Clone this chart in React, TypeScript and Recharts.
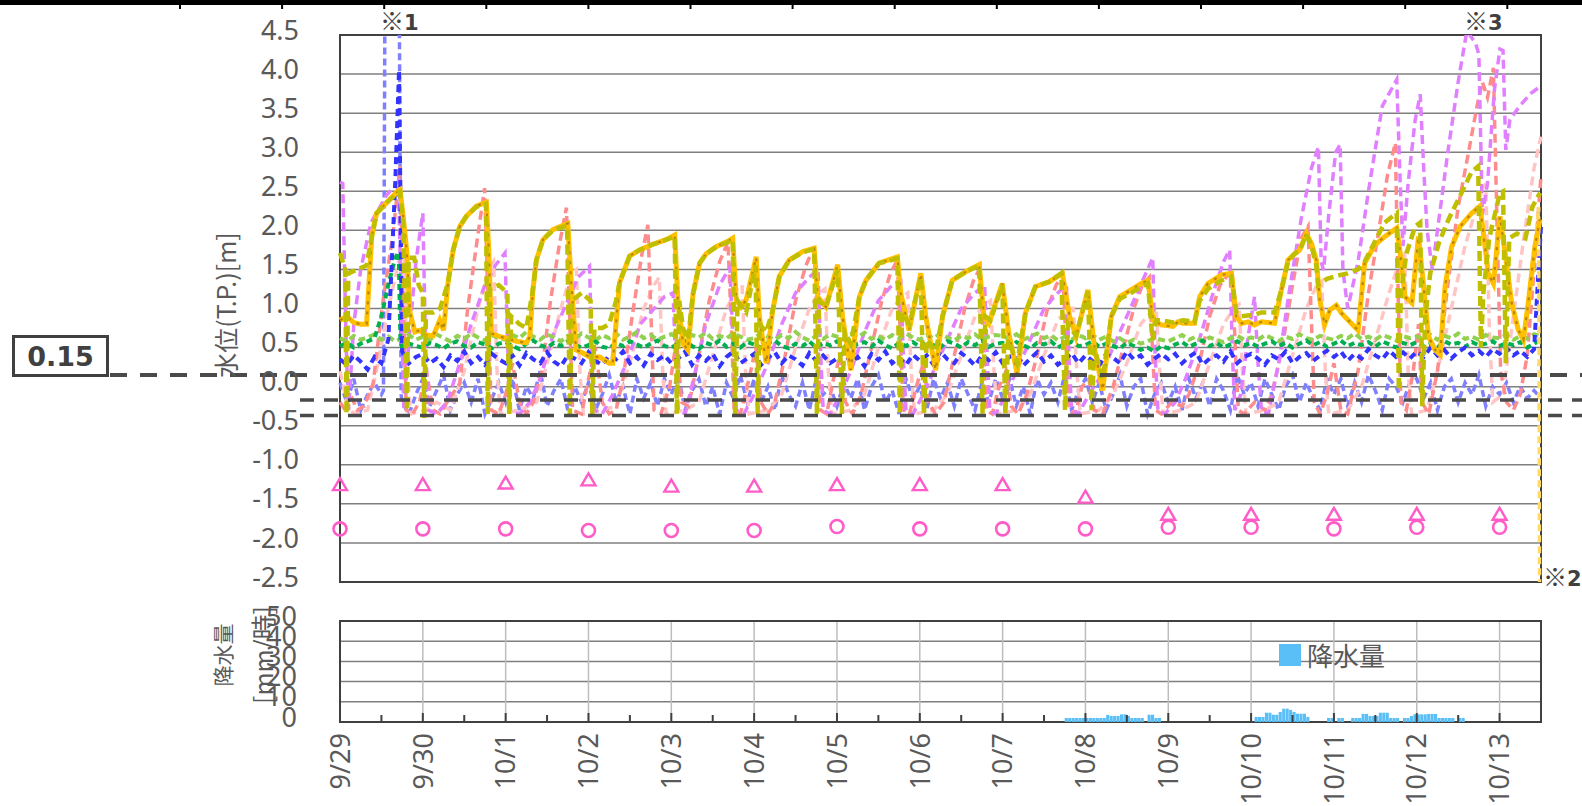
import {
  ComposedChart,
  Line,
  Scatter,
  Bar,
  XAxis,
  YAxis,
  CartesianGrid,
  ReferenceLine,
  ReferenceArea,
} from 'recharts'

// ---- axes / categories ----
const dayLabels = ['9/29', '9/30', '10/1', '10/2', '10/3', '10/4', '10/5', '10/6', '10/7', '10/8', '10/9', '10/10', '10/11', '10/12', '10/13']
const dayHours = dayLabels.map((_, i) => i * 24)
const halfDayHours = dayHours.flatMap((h) => [h, h + 12])
const levelTicks = [-2.5, -2, -1.5, -1, -0.5, 0, 0.5, 1, 1.5, 2, 2.5, 3, 3.5, 4, 4.5]
const rainTicks = [0, 10, 20, 30, 40, 50]
const END_HOUR = 348
const STEP = 2 // hours between samples of the logger series below

// ---- threshold levels ----
const thresholdHigh = 0.15
const thresholdMid = -0.17
const thresholdLow = -0.37

// ---- daily manual readings (0:00 each day) ----
const triangleLevels = [-1.26, -1.26, -1.24, -1.2, -1.28, -1.28, -1.26, -1.26, -1.26, -1.42, -1.64, -1.64, -1.64, -1.64, -1.64]
const circleLevels = [-1.82, -1.82, -1.82, -1.84, -1.84, -1.84, -1.79, -1.82, -1.82, -1.82, -1.8, -1.8, -1.82, -1.8, -1.8]

// ---- water level series, [hour, m] ----
const orangeLine = [
  [0, 0.85], [2, 0.9], [4, 0.82], [6, 0.8], [7.7, 0.8], [9.2, 1.92], [10.6, 2.22], [13.4, 2.35], [16.7, 2.5], [17.4, 2.52],
  [18.3, 2.18], [19.3, 1.75], [20.3, 0.94], [21.7, 0.7], [23, 0.72], [25, 0.66], [27, 0.65], [28.9, 0.85], [30, 0.72],
  [31.3, 1.33], [32.8, 1.75], [34.7, 2.05], [36.6, 2.18], [39.5, 2.31], [42.4, 2.36], [43.1, 1.75], [43.9, 0.68],
  [46.3, 0.64], [48.2, 0.62], [51.1, 0.58], [54, 0.56], [55, 0.64], [55.9, 1.24], [56.9, 1.62], [58.8, 1.88], [61.7, 2.01],
  [66, 2.09], [67, 1.33], [68.4, 0.47], [70.4, 0.43], [72.3, 0.38], [75.2, 0.38], [78, 0.3], [79, 0.3], [81, 1.33],
  [83.9, 1.67], [86.8, 1.75], [90.6, 1.82], [94.5, 1.88], [97, 1.94], [97.9, 1.11], [99.4, 0.55], [100.8, 0.47],
  [102.3, 1.19], [104.2, 1.58], [106.1, 1.7], [109, 1.79], [111.9, 1.85], [113.8, 1.9], [114.8, 1.11], [116.2, 1.02],
  [117.7, 1.11], [120.6, 1.66], [121.5, 0.9], [123.5, 0.3], [125.4, 0.98], [127.3, 1.41], [130.2, 1.62], [134.1, 1.73],
  [137.4, 1.77], [138.4, 1.15], [140.8, 1.02], [144.2, 1.56], [145.6, 0.9], [148, 0.21], [150.5, 1.15], [152.4, 1.36],
  [156.2, 1.58], [161.5, 1.66], [162.5, 1.19], [164.9, 0.72], [168.3, 1.45], [169.7, 0.9], [172.6, 0.21], [174.6, 0.9],
  [177.4, 1.36], [181.3, 1.47], [185.2, 1.56], [186.6, 0.9], [188, 0.81], [191.9, 1.32], [193.8, 0.68], [196.2, 0.17],
  [198.6, 0.94], [201.5, 1.28], [205.4, 1.34], [209.3, 1.45], [211.4, 0.9], [213.3, 0.64], [216.7, 1.24], [218.7, 0.47],
  [221, -0.05], [223.5, 0.9], [225.9, 1.15], [229.3, 1.24], [232.2, 1.32], [234.1, 1.36], [235.6, 0.85], [238, 0.79],
  [241.4, 0.77], [242.8, 0.83], [244.3, 0.81], [247.6, 0.81], [249.1, 1.15], [251.5, 1.32], [255.4, 1.43], [258.3, 1.45],
  [259.7, 0.9], [261.2, 0.81], [263.1, 0.83], [265, 0.79], [267, 0.83], [270.8, 0.81], [272.8, 1.24], [274.7, 1.62],
  [276.6, 1.7], [278.1, 1.75], [280, 1.96], [281.5, 1.83], [282.9, 1.62], [283.9, 1.11], [285.3, 0.79], [286.8, 0.98],
  [288.7, 1.04], [290.2, 0.94], [293, 0.81], [295, 0.72], [296.9, 1.58], [299.8, 1.81], [302.7, 1.92], [306.2, 2.03],
  [307.2, 1.71], [308.6, 1.15], [310.6, 1.07], [312.5, 1.92], [314, 1.28], [315.4, 0.64], [317.3, 0.47], [318.8, 0.41],
  [320.2, 1.28], [322.1, 1.79], [324.6, 2.05], [327.9, 2.22], [330.3, 2.31], [331.3, 1.97], [332.7, 1.45], [334.2, 1.32],
  [336.1, 2.18], [337.6, 1.71], [339.5, 1.07], [341.4, 0.73], [342.9, 0.6], [344.3, 1.07], [346.2, 1.79], [347.7, 2.14],
]

const oliveLine = [
  [0, 1.71], [1.5, 1.5], [1.9, -0.35], [2.4, 1.45], [5, 1.5], [7.7, 1.55], [9.2, 1.92], [10.6, 2.22], [13.4, 2.35],
  [16.7, 2.48], [17.4, 2.5], [18.3, 2.1], [19, 0.6], [19.4, -0.3], [19.9, 1.65], [21.5, 1.65], [22.8, 1.3], [24, 1.2],
  [24.4, -0.4], [24.9, 0.95], [27, 0.95], [29, 1.0], [31.3, 1.33], [32.8, 1.75], [34.7, 2.05], [36.6, 2.18], [39.5, 2.3],
  [42.3, 2.34], [42.8, -0.35], [43.4, 1.25], [46, 1.3], [48.5, 1.2], [49, -0.35], [49.6, 0.9], [52, 0.8], [54, 0.75],
  [55.9, 1.24], [56.9, 1.62], [58.8, 1.88], [61.7, 2.0], [65.8, 2.06], [66.6, -0.35], [67.2, 1.1], [70, 1.2], [72.6, 1.1],
  [73.1, -0.35], [73.7, 0.75], [76, 0.75], [78, 0.8], [80, 1.1], [81, 1.33], [83.9, 1.67], [86.8, 1.75], [90.6, 1.82],
  [94.5, 1.88], [97, 1.92], [97.6, -0.35], [98.3, 1.1], [99.4, 0.75], [100.8, 0.6], [102.3, 1.19], [104.2, 1.58],
  [106.1, 1.7], [109, 1.79], [111.9, 1.84], [113.8, 1.88], [114.5, -0.35], [115.2, 1.1], [117.7, 0.95], [120.4, 1.55],
  [121, -0.35], [121.6, 0.8], [123.5, 0.7], [125.4, 0.98], [127.3, 1.41], [130.2, 1.62], [134.1, 1.72], [137.4, 1.76],
  [138.2, -0.35], [138.8, 1.1], [140.8, 1.02], [144.2, 1.5], [145.4, -0.35], [146.2, 0.7], [148, 0.55], [150.5, 1.15],
  [152.4, 1.36], [156.2, 1.58], [161.5, 1.64], [162.2, -0.35], [162.9, 0.95], [165, 0.8], [168.3, 1.4], [169.2, -0.35],
  [170, 0.6], [172.6, 0.45], [174.6, 0.9], [177.4, 1.36], [181.3, 1.47], [185.2, 1.55], [186.2, -0.35], [187, 0.9],
  [188.5, 0.85], [191.9, 1.3], [192.8, -0.35], [193.6, 0.6], [196.2, 0.3], [198.6, 0.94], [201.5, 1.28], [205.4, 1.34],
  [209, 1.45], [210.1, -0.3], [210.9, 0.8], [213.3, 0.65], [216.7, 1.22], [217.8, -0.3], [218.6, 0.5], [221, 0.1],
  [223.5, 0.9], [225.9, 1.12], [229.3, 1.2], [232.2, 1.28], [234.1, 1.32], [235.4, 0.6], [236.5, 0.85], [238, 0.85],
  [241.4, 0.82], [244.3, 0.85], [247.6, 0.83], [249.1, 1.1], [251.5, 1.25], [255.4, 1.36], [258.3, 1.4], [259.7, 0.95],
  [261.2, 0.9], [265, 0.92], [267, 0.95], [270.8, 0.95], [272.8, 1.24], [274.7, 1.6], [276.6, 1.7], [278.1, 1.74],
  [280, 1.95], [281.5, 1.8], [282.9, 1.55], [283.4, 1.3], [286, 1.38], [289, 1.42], [292, 1.45], [295, 1.5], [296.9, 1.6],
  [299.8, 1.85], [302.7, 2.1], [306.2, 2.22], [306.8, -0.05], [307.4, 1.2], [309, 1.7], [311.5, 2.05], [313, 2.1],
  [313.6, -0.25], [314.4, 0.85], [315.9, 1.45], [318.5, 1.85], [321.2, 2.14], [325, 2.48], [327.9, 2.75], [329.8, 2.82],
  [330.6, 0.5], [331.3, 1.2], [333, 1.9], [336.1, 2.48], [337, 2.5], [337.8, 0.3], [338.8, 1.9], [341, 1.96], [343.5, 1.9],
  [345.5, 2.3], [347.7, 2.48],
]

const violetLine = [
  [0, 2.62], [0.8, 2.6], [1.8, 0.5], [2.5, -0.3], [4, 0.8], [6, 1.5], [9, 2.1], [13.5, 2.45], [16.9, 2.63], [17.8, 1.0],
  [18.5, -0.3], [20, 0.6], [22, 1.6], [24, 2.22], [24.8, 0.5], [25.6, -0.3], [28, -0.35], [31, -0.2], [34, 0.2], [38, 0.8],
  [42, 1.3], [45, 1.55], [47.8, 1.71], [48.6, 0.5], [49.4, -0.3], [52, -0.35], [55, -0.2], [58, 0.1], [62, 0.7], [66, 1.1],
  [69, 1.4], [72.3, 1.54], [73, 0.4], [73.8, -0.3], [76, -0.35], [79, -0.1], [83, 0.3], [87, 0.8], [91, 1.0], [94, 1.15],
  [96.5, 1.2], [97.3, 0.3], [98, -0.3], [100, -0.35], [103, 0.2], [106, 0.8], [110, 1.3], [113, 1.53], [114, 0.4],
  [114.8, -0.3], [117, -0.35], [120, -0.1], [124, 0.3], [128, 0.8], [132, 1.2], [136, 1.4], [138.5, 1.5], [139.3, 0.4],
  [140, -0.3], [142, -0.35], [145, -0.1], [148, 0.2], [152, 0.7], [156, 1.1], [160, 1.3], [162.5, 1.35], [163.3, 0.3],
  [164, -0.3], [166, -0.35], [169, -0.1], [172, 0.2], [176, 0.6], [180, 1.0], [184, 1.2], [186.8, 1.3], [187.6, 0.3],
  [188.3, -0.3], [190, -0.35], [193, -0.1], [196, 0.2], [200, 0.6], [204, 1.0], [208, 1.2], [210.5, 1.3], [211.3, 0.3],
  [212, -0.3], [214, -0.35], [217, -0.1], [220, 0.1], [224, 0.5], [228, 0.9], [232, 1.3], [235.5, 1.65], [236.2, 0.4],
  [237, -0.3], [239, -0.35], [242, -0.2], [245, 0.1], [249, 0.6], [253, 1.2], [256, 1.6], [257.8, 1.75], [258.6, 0.4],
  [259.3, -0.3], [261, -0.1], [263, 0.6], [265, 1.15], [266, 0.3], [267, -0.3], [269, -0.35], [272, 0.3], [275, 1.2],
  [278.6, 2.17], [281.5, 2.8], [283.5, 3.07], [284.3, 1.6], [285, 1.49], [286.5, 2.2], [288.5, 3.0], [289.8, 3.1],
  [290.6, 1.49], [292, 1.0], [295, 1.6], [298, 2.5], [302, 3.59], [306.2, 3.93], [307.2, 2.6], [308, 1.8], [309.5, 2.6],
  [311.5, 3.4], [313, 3.74], [314, 2.8], [315, 2.0], [316.5, 1.5], [318, 2.0], [321, 3.0], [324, 3.9], [326.5, 4.55],
  [329, 4.4], [330, 4.25], [331, 2.2], [332.5, 2.6], [334.5, 3.8], [336.1, 4.32], [337, 4.3], [337.8, 3.03], [339, 3.42],
  [342, 3.6], [345, 3.75], [348, 3.85],
]

const salmonLine = [
  [0, -0.2], [1.5, -0.3], [3, -0.1], [5, -0.3], [7, -0.25], [9.6, 0.04], [12.5, 1.11], [15.4, 1.97], [17.4, 2.82],
  [18.4, 1.0], [19.2, -0.3], [21, -0.35], [23, -0.2], [25, 0.2], [27, -0.3], [29, -0.35], [31, -0.2], [34.7, 0.04],
  [37, 1.0], [39.5, 1.8], [41.9, 2.54], [43, 1.0], [43.8, -0.3], [46, -0.35], [48, -0.1], [50, 0.3], [52, -0.2],
  [54, -0.35], [56, -0.2], [58.5, 0.2], [61, 1.1], [63.5, 1.8], [65.6, 2.29], [66.6, 0.8], [67.4, -0.3], [70, -0.35],
  [72, 0.1], [74, 0.5], [76, -0.2], [78, -0.35], [80, -0.3], [82, 0.1], [85, 1.0], [87.5, 1.7], [89.2, 2.07], [90.2, 0.8],
  [91, -0.3], [93, -0.35], [95.5, 0.0], [97.5, 0.6], [99, -0.2], [101, -0.25], [104, 0.4], [107, 1.1], [110, 1.6],
  [112.4, 1.85], [113.4, 0.8], [114.2, -0.3], [116, -0.35], [118, 0.0], [120.5, 0.5], [122, -0.2], [124, -0.35],
  [126, -0.2], [129, 0.4], [132, 1.1], [135, 1.55], [137.4, 1.79], [138.4, 0.6], [139.2, -0.3], [141, -0.35], [143, 0.1],
  [145, 0.4], [146.5, -0.2], [148.5, -0.35], [151, -0.1], [154, 0.5], [157, 1.1], [159.5, 1.45], [161.5, 1.62],
  [162.5, 0.5], [163.3, -0.3], [165, -0.35], [167, 0.0], [169, 0.3], [170.5, -0.2], [172.5, -0.35], [175, -0.2],
  [178, 0.4], [181, 1.0], [183.5, 1.35], [185.5, 1.52], [186.5, 0.5], [187.3, -0.3], [189, -0.35], [191, 0.0], [193, 0.2],
  [194.5, -0.25], [196.5, -0.35], [199, -0.1], [202, 0.4], [205, 1.0], [207.5, 1.3], [209.5, 1.42], [210.5, 0.4],
  [211.3, -0.3], [213, -0.35], [215, 0.0], [217, 0.1], [218.5, -0.3], [221, -0.35], [224, 0.0], [227, 0.5], [230, 1.0],
  [232.5, 1.3], [234.5, 1.4], [235.5, 0.4], [236.3, -0.3], [238, -0.35], [241, -0.2], [244, -0.25], [246, -0.1],
  [249, 0.3], [252, 0.9], [255, 1.3], [258.5, 1.5], [259.5, 0.4], [260.3, -0.3], [262, -0.35], [265, -0.2], [268, -0.3],
  [270, -0.1], [273, 0.5], [276, 1.3], [278.5, 1.9], [280.5, 2.05], [281.5, 0.8], [282.3, -0.2], [284, -0.35],
  [286, -0.1], [288, 0.3], [290, -0.3], [292, -0.35], [295, 0.2], [298, 1.2], [301, 2.0], [303.5, 2.7], [305.8, 3.12],
  [306.6, 1.2], [307.4, -0.2], [309, -0.3], [311, 0.2], [312.5, 0.8], [313.5, -0.2], [315.5, -0.35], [318, 0.2],
  [321, 1.3], [324, 2.3], [327, 3.0], [329.5, 3.6], [331, 3.9], [332.5, 3.7], [334.2, 4.08], [335.3, 2.0], [336.3, 0.2],
  [338, -0.2], [340, -0.3], [342, -0.1], [344, 0.4], [346, 1.5], [348, 2.7],
]

const pinkLine = [
  [0, 0.2], [2, -0.2], [4, -0.35], [8, -0.3], [11, 0.3], [14, 1.0], [17, 1.6], [18.5, 1.7], [19.5, 0.2], [20.5, -0.35],
  [25, -0.3], [28, -0.2], [32, -0.3], [36, 0.2], [40, 1.0], [43, 1.5], [44.5, 1.6], [45.5, 0.2], [46.5, -0.35], [52, -0.3],
  [57, -0.2], [60, 0.3], [64, 1.0], [67, 1.45], [68.5, 1.5], [69.5, 0.2], [70.5, -0.35], [76, -0.3], [80, -0.25], [84, 0.3],
  [88, 1.0], [91, 1.3], [92.5, 1.4], [93.5, 0.2], [94.5, -0.35], [100, -0.3], [104, -0.2], [108, 0.4], [112, 1.0],
  [115, 1.25], [116.5, 1.3], [117.5, 0.2], [118.5, -0.35], [124, -0.3], [128, -0.1], [132, 0.5], [136, 1.0], [139, 1.2],
  [140.5, 1.25], [141.5, 0.2], [142.5, -0.35], [148, -0.3], [152, -0.1], [156, 0.5], [160, 1.0], [163, 1.15],
  [164.5, 1.2], [165.5, 0.2], [166.5, -0.35], [172, -0.3], [176, -0.1], [180, 0.4], [184, 0.9], [187, 1.05], [188.5, 1.1],
  [189.5, 0.2], [190.5, -0.35], [196, -0.3], [200, -0.1], [204, 0.4], [208, 0.85], [211, 1.0], [212.5, 1.0], [213.5, 0.2],
  [214.5, -0.35], [220, -0.3], [224, -0.1], [228, 0.3], [232, 0.8], [235, 0.95], [236.5, 1.0], [237.5, 0.2],
  [238.5, -0.35], [244, -0.3], [248, -0.2], [252, 0.3], [256, 0.8], [259, 1.0], [260.5, 1.05], [261.5, 0.2],
  [262.5, -0.35], [268, -0.3], [272, -0.2], [276, 0.4], [280, 1.0], [283, 1.3], [284.5, 1.35], [285.5, 0.2],
  [286.5, -0.35], [292, -0.3], [296, 0.0], [300, 0.6], [304, 1.2], [307, 1.6], [308.5, 1.7], [309.5, 0.2], [310.5, -0.35],
  [315, -0.3], [318, 0.2], [322, 1.0], [326, 1.8], [330, 2.4], [332, 2.6], [333, 0.8], [334, -0.2], [337, -0.1], [340, 0.9],
  [343, 1.9], [346, 2.8], [348, 3.2],
]

const paleYellowLine = [[343, 0.6], [345.5, 1.4], [347.3, 2.3], [347.6, -2.7]]

// ---- logger series every STEP hours from 9/29 0:00, plus extra readings ----
const blueBase = [
  0.35, 0.28, 0.4, 0.32, 0.22, 0.38, 0.3, 0.6, 2.6, 0.45, 0.3, 0.38,
  0.42, 0.3, 0.36, 0.25, 0.4, 0.33, 0.45, 0.3, 0.38, 0.28, 0.42, 0.35,
  0.3, 0.4, 0.27, 0.43, 0.35, 0.3, 0.44, 0.32, 0.26, 0.4, 0.36, 0.3,
  0.44, 0.33, 0.28, 0.4, 0.35, 0.45, 0.3, 0.38, 0.27, 0.42, 0.34, 0.4,
  0.3, 0.36, 0.45, 0.28, 0.4, 0.33, 0.42, 0.26, 0.38, 0.45, 0.3, 0.36,
  0.42, 0.28, 0.37, 0.44, 0.3, 0.4, 0.35, 0.27, 0.43, 0.33, 0.4, 0.3,
  0.36, 0.44, 0.3, 0.38, 0.26, 0.42, 0.34, 0.45, 0.3, 0.37, 0.28, 0.41,
  0.33, 0.4, 0.28, 0.45, 0.35, 0.3, 0.43, 0.36, 0.27, 0.4, 0.34, 0.44,
  0.3, 0.38, 0.42, 0.27, 0.36, 0.44, 0.32, 0.4, 0.28, 0.35, 0.43, 0.3,
  0.4, 0.33, 0.27, 0.42, 0.37, 0.3, 0.45, 0.35, 0.4, 0.28, 0.36, 0.42,
  0.35, 0.42, 0.3, 0.38, 0.44, 0.28, 0.36, 0.4, 0.32, 0.45, 0.3, 0.38,
  0.42, 0.36, 0.28, 0.4, 0.35, 0.45, 0.3, 0.38, 0.43, 0.33, 0.4, 0.46,
  0.38, 0.45, 0.33, 0.42, 0.36, 0.48, 0.4, 0.35, 0.46, 0.38, 0.44, 0.36,
  0.45, 0.38, 0.5, 0.4, 0.47, 0.36, 0.44, 0.5, 0.4, 0.46, 0.38, 0.48,
  0.42, 0.5, 0.4, 0.46, 0.38, 0.48, 2.05,
]
const blueExtra = [[17.1, 4.05]]

const lightBlueBase = [
  0.05, -0.2, 0.1, -0.3, -0.1, 0.05, -0.1, 4.8, 4.8, -0.2, -0.35, -0.1,
  0.1, -0.25, -0.05, 0.15, -0.3, -0.1, 0.05, -0.2, 0.1, -0.35, -0.15, 0.05,
  -0.2, 0.1, -0.3, 0.0, -0.15, 0.2, -0.25, -0.05, 0.1, -0.3, 0.0, -0.2,
  0.05, -0.3, -0.1, 0.15, -0.2, 0.0, -0.35, 0.1, -0.15, 0.05, -0.25, 0.1,
  -0.1, 0.15, -0.3, -0.05, 0.1, -0.25, 0.0, -0.35, 0.05, -0.15, 0.15, -0.2,
  0.1, -0.2, 0.0, -0.3, 0.15, -0.1, -0.25, 0.05, -0.3, 0.1, -0.1, 0.0,
  -0.25, 0.05, -0.15, 0.1, -0.3, 0.0, 0.15, -0.2, -0.05, -0.35, 0.1, -0.15,
  0.0, -0.3, 0.1, -0.15, 0.05, -0.25, 0.1, -0.1, -0.3, 0.05, -0.2, 0.1,
  -0.15, 0.1, -0.25, 0.0, -0.35, 0.1, -0.1, 0.05, -0.2, 0.15, -0.3, -0.05,
  0.1, -0.2, 0.05, -0.3, -0.1, 0.15, -0.25, 0.0, 0.1, -0.35, -0.1, 0.05,
  -0.2, 0.0, -0.3, 0.1, -0.15, 0.05, -0.25, 0.1, -0.05, -0.3, 0.15, -0.1,
  0.05, -0.25, 0.1, -0.1, -0.3, 0.0, 0.15, -0.2, 0.05, -0.15, -0.3, 0.1,
  -0.1, 0.1, -0.25, 0.05, -0.2, 0.15, -0.05, -0.3, 0.1, 0.0, -0.2, 0.05,
  0.1, -0.15, 0.05, -0.3, 0.0, 0.1, -0.2, 0.05, -0.1, 0.15, -0.25, 0.0,
  -0.1, 0.05, -0.2, 0.0, -0.15, -0.05, -0.15,
]
const lightBlueExtra = [[12.6, -0.05], [13, 4.8], [17.2, 4.8], [17.7, -0.1]]

const greenBase = [
  0.52, 0.56, 0.5, 0.55, 0.58, 0.62, 0.9, 1.3, 1.65, 0.5, 0.55, 0.52,
  0.5, 0.56, 0.53, 0.49, 0.55, 0.58, 0.52, 0.5, 0.57, 0.54, 0.49, 0.55,
  0.57, 0.52, 0.48, 0.55, 0.59, 0.53, 0.5, 0.56, 0.52, 0.58, 0.54, 0.5,
  0.53, 0.58, 0.51, 0.49, 0.56, 0.52, 0.58, 0.54, 0.5, 0.55, 0.59, 0.52,
  0.5, 0.55, 0.58, 0.52, 0.48, 0.56, 0.53, 0.59, 0.51, 0.55, 0.5, 0.57,
  0.54, 0.5, 0.56, 0.59, 0.52, 0.49, 0.55, 0.52, 0.58, 0.5, 0.56, 0.53,
  0.58, 0.52, 0.5, 0.55, 0.57, 0.51, 0.59, 0.53, 0.49, 0.56, 0.52, 0.57,
  0.51, 0.56, 0.53, 0.5, 0.58, 0.55, 0.5, 0.57, 0.53, 0.59, 0.51, 0.55,
  0.56, 0.5, 0.57, 0.53, 0.49, 0.56, 0.54, 0.58, 0.5, 0.55, 0.57, 0.52,
  0.53, 0.58, 0.51, 0.55, 0.52, 0.49, 0.56, 0.52, 0.47, 0.5, 0.45, 0.52,
  0.49, 0.54, 0.57, 0.51, 0.55, 0.59, 0.52, 0.56, 0.5, 0.54, 0.58, 0.53,
  0.56, 0.51, 0.55, 0.58, 0.52, 0.56, 0.5, 0.55, 0.59, 0.53, 0.57, 0.51,
  0.55, 0.59, 0.52, 0.56, 0.53, 0.57, 0.51, 0.58, 0.54, 0.5, 0.56, 0.53,
  0.57, 0.52, 0.55, 0.5, 0.58, 0.54, 0.56, 0.51, 0.57, 0.53, 0.55, 0.58,
  0.52, 0.56, 0.53, 0.57, 0.5, 0.55, 0.6,
]
const greenExtra = [[17, 1.72], [17.5, 0.6]]

const lightGreenBase = [
  0.62, 0.58, 0.65, 0.6, 0.63, 0.67, 0.6, 0.64, 0.58, 0.62, 0.66, 0.6,
  0.64, 0.6, 0.67, 0.62, 0.58, 0.65, 0.61, 0.68, 0.63, 0.59, 0.66, 0.62,
  0.6, 0.66, 0.62, 0.7, 0.64, 0.6, 0.67, 0.63, 0.58, 0.65, 0.61, 0.68,
  0.63, 0.59, 0.66, 0.62, 0.68, 0.6, 0.64, 0.7, 0.62, 0.66, 0.6, 0.64,
  0.67, 0.62, 0.6, 0.66, 0.63, 0.69, 0.61, 0.65, 0.62, 0.68, 0.64, 0.6,
  0.62, 0.68, 0.64, 0.6, 0.66, 0.62, 0.7, 0.63, 0.59, 0.65, 0.61, 0.67,
  0.64, 0.6, 0.67, 0.63, 0.69, 0.61, 0.65, 0.6, 0.66, 0.62, 0.68, 0.63,
  0.6, 0.66, 0.62, 0.68, 0.63, 0.59, 0.65, 0.62, 0.67, 0.6, 0.64, 0.66,
  0.65, 0.61, 0.67, 0.6, 0.64, 0.68, 0.62, 0.66, 0.59, 0.64, 0.6, 0.66,
  0.62, 0.66, 0.6, 0.64, 0.58, 0.62, 0.56, 0.6, 0.55, 0.58, 0.62, 0.6,
  0.58, 0.62, 0.66, 0.6, 0.64, 0.58, 0.63, 0.6, 0.57, 0.62, 0.65, 0.6,
  0.63, 0.6, 0.66, 0.62, 0.58, 0.64, 0.61, 0.67, 0.62, 0.6, 0.65, 0.62,
  0.6, 0.65, 0.62, 0.68, 0.61, 0.64, 0.6, 0.66, 0.63, 0.59, 0.65, 0.62,
  0.64, 0.61, 0.66, 0.6, 0.65, 0.62, 0.68, 0.61, 0.64, 0.6, 0.66, 0.63,
  0.62, 0.66, 0.6, 0.65, 0.62, 0.67, 0.64,
]

// ---- rainfall, [hour, mm/h] ----
const rainfall = [
  [210, 2], [211, 2], [212, 2], [213, 2], [214, 2], [215, 2], [216, 2], [217, 2], [218, 2], [219, 2], [220, 2], [221, 2],
  [222, 3.5], [223, 3], [224, 3], [225, 3], [226, 3.8], [227, 3.8], [228, 3], [229, 2], [230, 2], [231, 2], [232, 2],
  [234, 3.6], [235, 3.6], [236, 2], [237, 2],
  [265, 2.5], [266, 2.5], [267, 2.5], [268, 4.6], [269, 4.6], [270, 3.6], [271, 3.6], [272, 5], [273, 6.6], [274, 6.6],
  [275, 6], [276, 5], [277, 4.1], [278, 4.1], [279, 4.1], [280, 2.5],
  [286, 2], [287, 2], [289, 2], [290, 2],
  [293, 2], [294, 2], [295, 2], [296, 4], [297, 4], [298, 3], [299, 3], [300, 3], [301, 4.6], [302, 4.6], [303, 4.6],
  [304, 2], [305, 2], [306, 2], [308, 2], [309, 2], [310, 3], [311, 3.8], [312, 3.8], [313, 3.8], [314, 3.8], [315, 4],
  [316, 4], [317, 4], [318, 2], [319, 2], [320, 2], [321, 2], [322, 2], [324, 2], [325, 2],
]

type Pt = { h: number; v: number }
const fromPairs = (arr: number[][]): Pt[] => arr.map(([h, v]) => ({ h, v }))
const fromGrid = (vals: number[], extra: number[][] = []): Pt[] =>
  [...vals.map((v, i) => ({ h: i * STEP, v })), ...fromPairs(extra)].sort((a, b) => a.h - b.h)

const triangleData = triangleLevels.map((v, i) => ({ h: dayHours[i], v }))
const circleData = circleLevels.map((v, i) => ({ h: dayHours[i], v }))
const rainData = rainfall.map(([h, mm]) => ({ h: h + 0.5, mm }))

const TEXT = '#595959'
const DARK = '#404040'
const PINK = '#FF5CC8'
const RAIN = '#5BBFF7'

const makeYTick = (fmt: (v: number) => string) => (props: any) => {
  const { x, y, payload } = props
  return (
    <text x={x} y={y - 5} dy="0.355em" textAnchor="end" fill={TEXT} fontSize={27} fontFamily="Noto Sans">
      {fmt(payload.value)}
    </text>
  )
}
const LevelTick = makeYTick((v) => v.toFixed(1))
const RainTick = makeYTick((v) => String(v))

const DayTick = (props: any) => {
  const { x, y, payload } = props
  const h = payload.value
  const isDay = h % 24 === 0
  return (
    <g>
      <line x1={x} x2={x} y1={y} y2={y - (isDay ? 9 : 7)} stroke={DARK} strokeWidth={2} />
      {isDay && (
        <text
          transform={`translate(${x},${y + 11}) rotate(-90)`}
          dy="0.36em"
          textAnchor="end"
          fill={TEXT}
          fontSize={27}
          fontFamily="Noto Sans"
        >
          {dayLabels[h / 24]}
        </text>
      )}
    </g>
  )
}

const Triangle = (props: any) => {
  const { cx, cy } = props
  return <path d={`M${cx},${cy - 7} L${cx + 7},${cy + 5} L${cx - 7},${cy + 5} Z`} fill="none" stroke={PINK} strokeWidth={2.4} />
}
const Ring = (props: any) => <circle cx={props.cx} cy={props.cy} r={6.5} fill="none" stroke={PINK} strokeWidth={2.6} />

const extendedLine = (fromX: number, width: number, dash: string) => (p: any) => (
  <line x1={fromX} x2={1582} y1={p.y1} y2={p.y1} stroke="#4a4a4a" strokeWidth={width} strokeDasharray={dash} />
)

const dashed = (key: string, data: Pt[], color: string, width: number, dash: string) => (
  <Line
    key={key}
    data={data}
    dataKey="v"
    type="linear"
    stroke={color}
    strokeWidth={width}
    strokeDasharray={dash}
    dot={false}
    activeDot={false}
    isAnimationActive={false}
  />
)

const rot: React.CSSProperties = {
  position: 'absolute',
  transform: 'translate(-50%, -50%) rotate(-90deg)',
  whiteSpace: 'nowrap',
  color: TEXT,
  fontFamily: '"Noto Sans CJK JP", "Noto Sans"',
  lineHeight: 1,
}
const note: React.CSSProperties = {
  position: 'absolute',
  fontFamily: '"DejaVu Sans"',
  fontWeight: 700,
  fontSize: 21,
  lineHeight: '22px',
  color: DARK,
  whiteSpace: 'nowrap',
}
const mark: React.CSSProperties = { fontFamily: '"Noto Sans CJK JP"', fontSize: 24, fontWeight: 400 }

const Note = ({ left, top, n }: { left: number; top: number; n: string }) => (
  <div style={{ ...note, left, top }}>
    <span style={mark}>※</span>
    {n}
  </div>
)

export default function App() {
  const orange = fromPairs(orangeLine)
  return (
    <div style={{ position: 'relative', width: 1582, height: 806, background: '#fff', overflow: 'hidden' }}>
      <style>{'body{margin:0}'}</style>

      <svg width={1582} height={12} style={{ position: 'absolute', left: 0, top: 0 }}>
        <rect x={0} y={0} width={1582} height={5} fill="#000" />
        {dayLabels.slice(1).map((_, i) => (
          <rect key={i} x={179 + i * 102.1} y={0} width={2} height={9} fill="#000" />
        ))}
      </svg>

      <div style={{ position: 'absolute', left: 0, top: 0 }}>
        <ComposedChart width={1582} height={600} margin={{ top: 35, right: 41, bottom: 18, left: 0 }}>
          <CartesianGrid vertical={false} stroke="#7f7f7f" strokeWidth={1.5} />
          <CartesianGrid horizontal={false} stroke="#d6d6d6" strokeWidth={1.5} />
          <XAxis type="number" dataKey="h" domain={[0, END_HOUR]} ticks={dayHours} tick={false} axisLine={false} tickLine={false} height={0} />
          <YAxis
            type="number"
            domain={[-2.5, 4.5]}
            ticks={levelTicks}
            interval={0}
            allowDataOverflow
            width={340}
            tickSize={0}
            tickMargin={41}
            axisLine={false}
            tickLine={false}
            tick={LevelTick}
          />
          <YAxis yAxisId="pts" type="number" domain={[-2.5, 4.5]} hide />
          {dashed('lb', fromGrid(lightBlueBase, lightBlueExtra), '#8080FF', 3.5, '7 4')}
          {dashed('pk', fromPairs(pinkLine), '#FFC4C4', 3.5, '9 5')}
          {dashed('sa', fromPairs(salmonLine), '#FF8C8C', 3.5, '9 5')}
          {dashed('vi', fromPairs(violetLine), '#E07FFF', 3.5, '9 5')}
          {dashed('lg', fromGrid(lightGreenBase), '#92D050', 4, '7 4')}
          {dashed('gr', fromGrid(greenBase, greenExtra), '#00B050', 4, '6 4')}
          {dashed('bl', fromGrid(blueBase, blueExtra), '#3333FF', 4, '7 5')}
          {dashed('py', fromPairs(paleYellowLine), '#FFD966', 3.5, '7 4')}
          <Line data={orange} dataKey="v" type="linear" stroke="#FFC000" strokeWidth={5} dot={false} activeDot={false} isAnimationActive={false} />
          {dashed('br', orange, '#B8860B', 2.2, '3 7')}
          {dashed('ol', fromPairs(oliveLine), '#BFBF00', 4.5, '10 5')}
          <Scatter yAxisId="pts" data={triangleData} dataKey="v" shape={Triangle} isAnimationActive={false} />
          <Scatter yAxisId="pts" data={circleData} dataKey="v" shape={Ring} isAnimationActive={false} />
          <ReferenceLine y={thresholdHigh} shape={extendedLine(110, 4, '17 13')} />
          <ReferenceLine y={thresholdMid} shape={extendedLine(300, 3.5, '14 10')} />
          <ReferenceLine y={thresholdLow} shape={extendedLine(300, 3.5, '14 10')} />
          <ReferenceArea x1={0} x2={END_HOUR} y1={-2.5} y2={4.5} fill="none" stroke={DARK} strokeWidth={2} />
        </ComposedChart>
      </div>

      <div style={{ position: 'absolute', left: 0, top: 600 }}>
        <ComposedChart width={1582} height={206} data={rainData} margin={{ top: 21, right: 41, bottom: 0, left: 0 }}>
          <CartesianGrid vertical={false} stroke="#7f7f7f" strokeWidth={1.5} />
          <CartesianGrid horizontal={false} stroke="#bdbdbd" strokeWidth={1.5} verticalValues={dayHours} />
          <XAxis
            type="number"
            dataKey="h"
            domain={[0, END_HOUR]}
            ticks={halfDayHours}
            interval={0}
            height={84}
            tickSize={0}
            tickMargin={0}
            axisLine={false}
            tickLine={false}
            tick={DayTick}
          />
          <YAxis
            type="number"
            domain={[0, 50]}
            ticks={rainTicks}
            interval={0}
            width={340}
            tickSize={0}
            tickMargin={43}
            axisLine={false}
            tickLine={false}
            tick={RainTick}
          />
          <Bar dataKey="mm" fill={RAIN} barSize={3.6} isAnimationActive={false} />
          <ReferenceArea x1={0} x2={END_HOUR} y1={0} y2={50} fill="none" stroke={DARK} strokeWidth={2} />
        </ComposedChart>
      </div>

      <div style={{ position: 'absolute', left: 12, top: 335, width: 91, height: 36, border: `3px solid ${DARK}`, display: 'flex', alignItems: 'center', justifyContent: 'center', fontFamily: '"DejaVu Sans"', fontWeight: 700, fontSize: 27, color: DARK }}>
        0.15
      </div>

      <div style={{ ...rot, left: 225, top: 305, fontSize: 25 }}>水位(T.P.)[m]</div>
      <div style={{ ...rot, left: 222, top: 655, fontSize: 21 }}>降水量</div>
      <div style={{ ...rot, left: 262, top: 655, fontSize: 25 }}>[mm/時]</div>

      <div style={{ position: 'absolute', left: 1279, top: 641, display: 'flex', alignItems: 'center' }}>
        <span style={{ width: 22, height: 22, background: RAIN, display: 'inline-block', marginRight: 6 }} />
        <span style={{ fontFamily: '"Noto Sans CJK JP"', fontSize: 26, color: TEXT, lineHeight: '28px' }}>降水量</span>
      </div>

      <Note left={380} top={9} n="1" />
      <Note left={1464} top={9} n="3" />
      <Note left={1543} top={565} n="2" />
    </div>
  )
}
